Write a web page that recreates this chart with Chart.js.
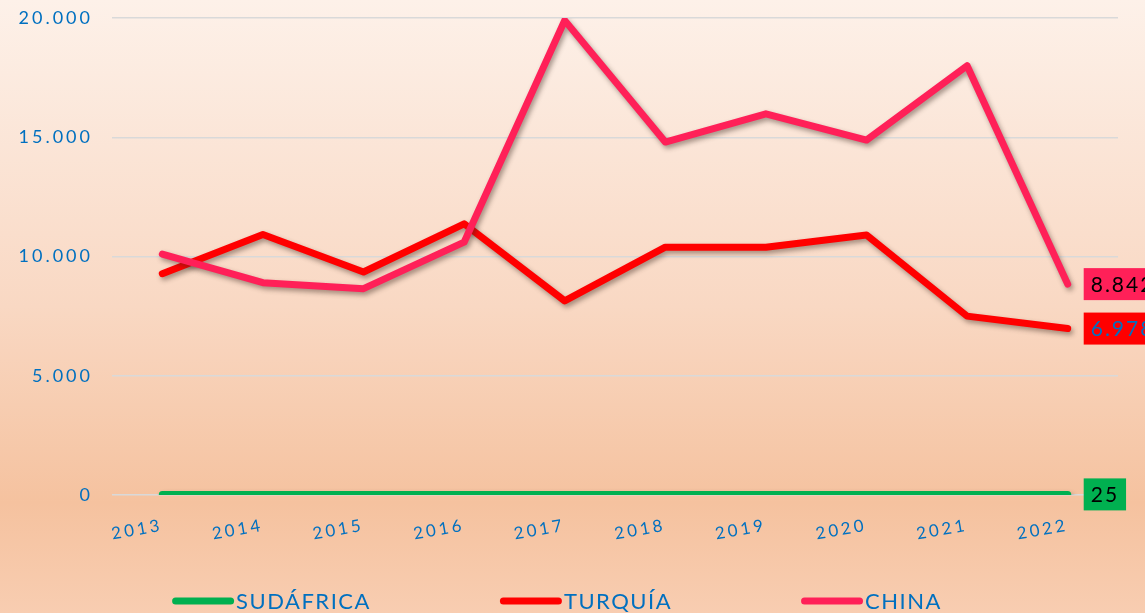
<!DOCTYPE html>
<html lang="es">
<head>
  <meta charset="UTF-8" />
  <title>Sudáfrica, Turquía, China</title>
  <script src="https://cdn.jsdelivr.net/npm/chart.js"></script>
  <style>
    html, body {
      margin: 0;
      padding: 0;
      background: #f8ccb0;
    }
    .wrap {
      width: 1145px;
      height: 613px;
    }
  </style>
</head>
<body>
  <div class="wrap">
    <canvas id="grafica" width="1145" height="613"></canvas>
  </div>

  <script>
    const anios = ['2013', '2014', '2015', '2016', '2017', '2018', '2019', '2020', '2021', '2022'];
    const sudafrica = [25, 25, 25, 25, 25, 25, 25, 25, 25, 25];
    const turquia = [9280, 10920, 9350, 11370, 8140, 10390, 10390, 10900, 7500, 6978];
    const china = [10100, 8900, 8650, 10600, 19900, 14800, 15980, 14880, 18000, 8842];
    const ticksY = [0, 5000, 10000, 15000, 20000];

    const azul = '#0070C0';
    const fuente = 'Lato, "Open Sans", sans-serif';

    function formato(v) {
      return v.toString().replace(/\B(?=(\d{3})+(?!\d))/g, '.');
    }

    // fondo degradado
    const fondo = {
      id: 'fondo',
      beforeDraw(chart) {
        const ctx = chart.ctx;
        const g = ctx.createLinearGradient(0, 0, 0, chart.height);
        g.addColorStop(0, '#fdf1e9');
        g.addColorStop(0.5, '#f9d8c3');
        g.addColorStop(0.82, '#f5c29f');
        g.addColorStop(1, '#f8cdb1');
        ctx.save();
        ctx.fillStyle = g;
        ctx.fillRect(0, 0, chart.width, chart.height);
        ctx.restore();
      }
    };

    // espaciado de letras
    const espaciado = {
      id: 'espaciado',
      beforeUpdate(chart) { chart.ctx.letterSpacing = '3px'; },
      beforeDraw(chart) { chart.ctx.letterSpacing = '3px'; }
    };

    // sombra de las lineas
    const sombra = {
      id: 'sombra',
      beforeDatasetDraw(chart) {
        const ctx = chart.ctx;
        ctx.save();
        ctx.shadowColor = 'rgba(60, 40, 30, 0.45)';
        ctx.shadowBlur = 5;
        ctx.shadowOffsetX = 2;
        ctx.shadowOffsetY = 3;
      },
      afterDatasetDraw(chart) {
        chart.ctx.restore();
      }
    };

    // etiqueta del ultimo valor
    const etiquetas = {
      id: 'etiquetas',
      afterDatasetsDraw(chart) {
        const ctx = chart.ctx;
        ctx.save();
        ctx.font = '21px ' + fuente;
        ctx.letterSpacing = '2px';
        ctx.textAlign = 'center';
        ctx.textBaseline = 'middle';
        chart.data.datasets.forEach((ds, i) => {
          const meta = chart.getDatasetMeta(i);
          const pt = meta.data[meta.data.length - 1];
          const txt = formato(ds.data[ds.data.length - 1]);
          const w = ctx.measureText(txt).width + 14;
          const x = pt.x + 16;
          ctx.fillStyle = ds.borderColor;
          ctx.fillRect(x, pt.y - 16, w, 32);
          ctx.fillStyle = ds.etiquetaColor;
          ctx.fillText(txt, x + w / 2, pt.y + 1);
        });
        ctx.restore();
      }
    };

    // leyenda inferior
    const leyenda = {
      id: 'leyenda',
      afterDraw(chart) {
        const ctx = chart.ctx;
        const y = 601;
        const muestra = 62;
        const hueco = 129;
        ctx.save();
        ctx.font = '22px ' + fuente;
        ctx.letterSpacing = '1.5px';
        ctx.textBaseline = 'middle';
        ctx.textAlign = 'left';
        const items = chart.data.datasets.map(ds => ({
          ds, w: muestra + 2 + ctx.measureText(ds.label).width
        }));
        const total = items.reduce((s, it) => s + it.w, 0) + hueco * (items.length - 1);
        let x = 557 - total / 2;
        items.forEach(it => {
          ctx.strokeStyle = it.ds.borderColor;
          ctx.lineWidth = 7;
          ctx.lineCap = 'round';
          ctx.beginPath();
          ctx.moveTo(x + 3.5, y);
          ctx.lineTo(x + muestra - 3.5, y);
          ctx.stroke();
          ctx.fillStyle = azul;
          ctx.fillText(it.ds.label, x + muestra + 2, y + 1);
          x += it.w + hueco;
        });
        ctx.restore();
      }
    };

    const serie = (label, data, color, etiquetaColor, order) => ({
      label, data,
      borderColor: color,
      backgroundColor: color,
      etiquetaColor,
      borderWidth: 7,
      borderCapStyle: 'round',
      borderJoinStyle: 'round',
      pointRadius: 0,
      tension: 0,
      fill: false,
      order
    });

    new Chart(document.getElementById('grafica'), {
      type: 'line',
      data: {
        labels: anios,
        datasets: [
          serie('SUDÁFRICA', sudafrica, '#00b050', '#000000', 2),
          serie('TURQUÍA', turquia, '#ff0000', azul, 1),
          serie('CHINA', china, '#ff2058', '#000000', 0)
        ]
      },
      options: {
        responsive: false,
        animation: false,
        layout: { padding: { top: 18, right: 27, bottom: 0, left: 0 } },
        plugins: {
          legend: { display: false },
          tooltip: { enabled: false }
        },
        scales: {
          x: {
            offset: true,
            grid: { display: false },
            border: { display: false },
            ticks: {
              color: azul,
              font: { family: fuente, size: 17 },
              minRotation: 10,
              maxRotation: 10,
              padding: 12
            },
            afterFit(scale) { scale.height = 118; }
          },
          y: {
            min: 0,
            max: 20000,
            afterBuildTicks(scale) { scale.ticks = ticksY.map(v => ({ value: v })); },
            grid: { color: '#d9d9d9', lineWidth: 1.5, drawTicks: false },
            border: { display: false },
            ticks: {
              color: azul,
              font: { family: fuente, size: 18 },
              padding: 19,
              callback: v => formato(v)
            },
            afterFit(scale) {
              scale.width = 112;
              scale.paddingTop = 0;
              scale.paddingBottom = 0;
            }
          }
        }
      },
      plugins: [fondo, espaciado, sombra, etiquetas, leyenda]
    });
  </script>
</body>
</html>
